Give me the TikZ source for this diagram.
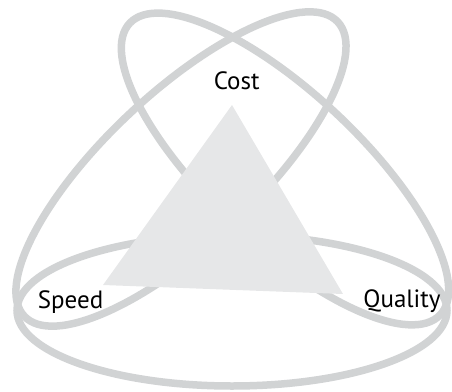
\documentclass[tikz,border=0pt]{standalone}
\usepackage{fontspec}
\setmainfont{PT Sans}
\definecolor{ringgray}{HTML}{D1D3D4}
\definecolor{trigray}{HTML}{E6E7E8}
\begin{document}
\begin{tikzpicture}[x=1pt,y=-1pt,
  ringline/.style={draw=ringgray, line width=7.5pt},
  lbl/.style={font=\fontsize{25}{25}\selectfont, text=black, anchor=base, inner sep=0pt}]
\useasboundingbox (0,0) rectangle (452,391);
\coordinate (cH) at (232,310.5);
\coordinate (cL) at (181,169);
\coordinate (cQ) at (285,169);
\draw[ringline] (cH) ellipse [x radius=215pt, y radius=75.5pt];
\draw[ringline, rotate around={43.2:(cL)}] (cL) ellipse [x radius=215pt, y radius=75.5pt];
\draw[ringline, rotate around={-43.2:(cQ)}] (cQ) ellipse [x radius=213pt, y radius=75.5pt];
\coordinate (tA) at (232,105);
\coordinate (tB) at (103,285);
\coordinate (tC) at (343,294);
\fill[trigray] (tA) -- (tB) -- (tC) -- cycle;
\node[lbl] (cost) at (236.7,89) {Cost};
\node[lbl] (speed) at (70.5,308) {Speed};
\node[lbl] (quality) at (402,307) {Quality};
\end{tikzpicture}
\end{document}
